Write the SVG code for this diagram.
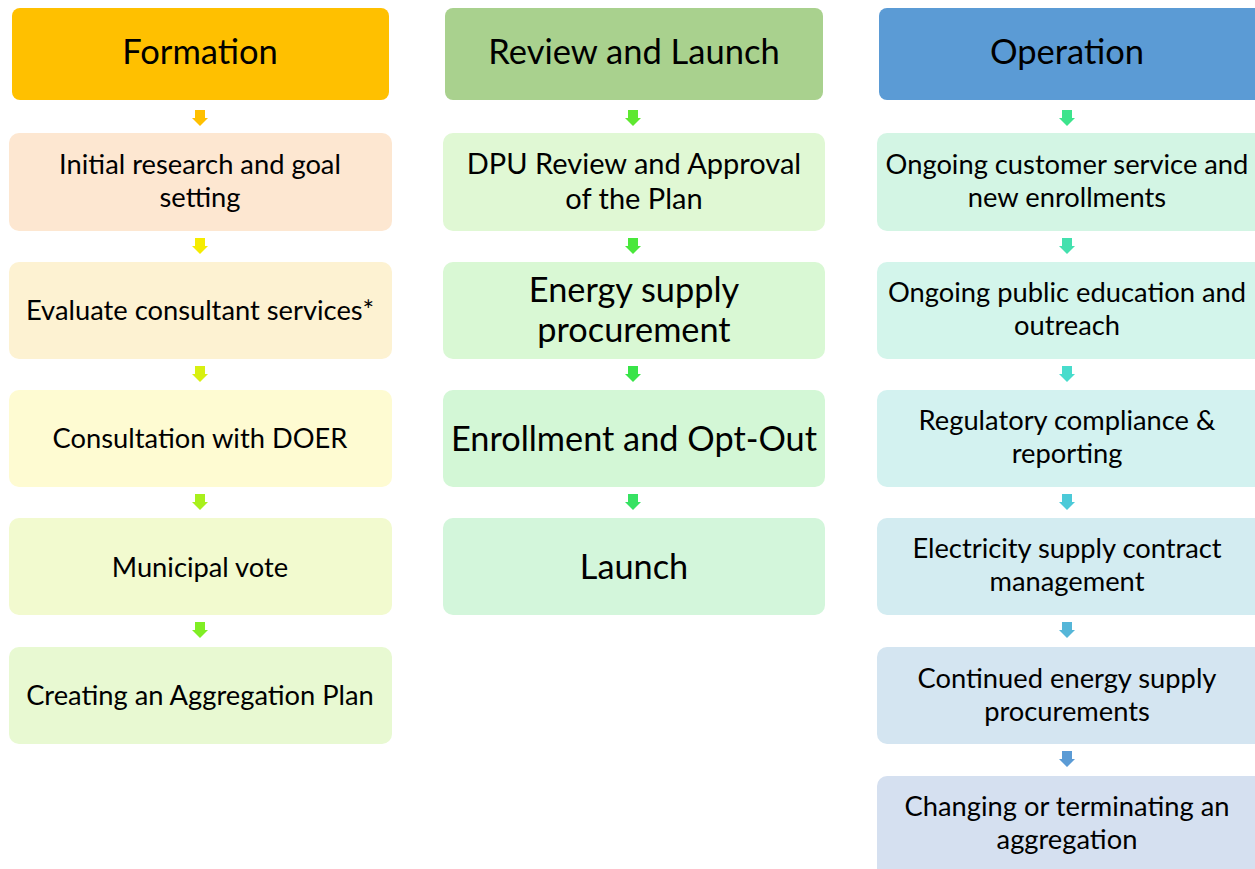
<svg xmlns="http://www.w3.org/2000/svg" xmlns:xlink="http://www.w3.org/1999/xlink" width="1255" height="869" viewBox="0 0 1255 869">
<style>
text{font-family:Lato,"Open Sans","Liberation Sans",sans-serif;fill:#000;text-anchor:middle}
.h{font-size:34.5px}
.n{font-size:27.3px}
.b{font-size:34.3px}
.m{font-size:29px}
</style>
<defs>
<path id="arr" d="M-5,0 H5 V8 H8 L0,16 L-8,8 H-5 Z"/>
</defs>
<rect width="1255" height="869" fill="#fff"/>
<g id="formation">
<g id="f0"><rect x="12" y="8" width="377" height="92" rx="8" fill="#FFC000"/><text class="h" x="200" y="64">Formation</text></g>
<g id="f1"><rect x="9" y="133" width="383" height="98" rx="10" fill="#FDE7D1"/><text class="n" x="200" y="174">Initial research and goal</text><text class="n" x="200" y="207">setting</text></g>
<g id="f2"><rect x="9" y="262" width="383" height="97" rx="10" fill="#FDF2D2"/><text class="n" x="200" y="320">Evaluate consultant services*</text></g>
<g id="f3"><rect x="9" y="390" width="383" height="97" rx="10" fill="#FEFBD2"/><text class="n" x="200" y="448">Consultation with DOER</text></g>
<g id="f4"><rect x="9" y="518" width="383" height="97" rx="10" fill="#F2FACF"/><text class="n" x="200" y="577">Municipal vote</text></g>
<g id="f5"><rect x="9" y="647" width="383" height="97" rx="10" fill="#E8F9D2"/><text class="n" x="200" y="705">Creating an Aggregation Plan</text></g>
</g>
<g id="review">
<g id="r0"><rect x="445" y="8" width="378" height="92" rx="8" fill="#A9D18E"/><text class="h" x="634" y="64">Review and Launch</text></g>
<g id="r1"><rect x="443" y="133" width="382" height="98" rx="10" fill="#E0F8D4"/><text class="m" x="634" y="174">DPU Review and Approval</text><text class="m" x="634" y="209">of the Plan</text></g>
<g id="r2"><rect x="443" y="262" width="382" height="97" rx="10" fill="#D9F8D4"/><text class="b" x="634" y="302">Energy supply</text><text class="b" x="634" y="342">procurement</text></g>
<g id="r3"><rect x="443" y="390" width="382" height="97" rx="10" fill="#D3F7D6"/><text class="b" x="634" y="451">Enrollment and Opt-Out</text></g>
<g id="r4"><rect x="443" y="518" width="382" height="97" rx="10" fill="#D3F6DB"/><text class="b" x="634" y="579">Launch</text></g>
</g>
<g id="operation">
<g id="o0"><rect x="879" y="8" width="386" height="92" rx="8" fill="#5B9BD5"/><text class="h" x="1067" y="64">Operation</text></g>
<g id="o1"><rect x="877" y="133" width="388" height="98" rx="10" fill="#D3F5E4"/><text class="n" x="1067" y="174">Ongoing customer service and</text><text class="n" x="1067" y="207">new enrollments</text></g>
<g id="o2"><rect x="877" y="262" width="388" height="97" rx="10" fill="#D3F5EB"/><text class="n" x="1067" y="302">Ongoing public education and</text><text class="n" x="1067" y="335">outreach</text></g>
<g id="o3"><rect x="877" y="390" width="388" height="97" rx="10" fill="#D3F2F0"/><text class="n" x="1067" y="430">Regulatory compliance &amp;</text><text class="n" x="1067" y="463">reporting</text></g>
<g id="o4"><rect x="877" y="518" width="388" height="97" rx="10" fill="#D3ECF1"/><text class="n" x="1067" y="558">Electricity supply contract</text><text class="n" x="1067" y="591">management</text></g>
<g id="o5"><rect x="877" y="647" width="388" height="97" rx="10" fill="#D4E5F1"/><text class="n" x="1067" y="688">Continued energy supply</text><text class="n" x="1067" y="721">procurements</text></g>
<g id="o6"><rect x="877" y="776" width="388" height="110" rx="10" fill="#D5E0F0"/><text class="n" x="1067" y="816">Changing or terminating an</text><text class="n" x="1067" y="849">aggregation</text></g>
</g>
<g id="connectors">
<use xlink:href="#arr" x="200" y="110" fill="#FFC000"/>
<use xlink:href="#arr" x="200" y="238" fill="#F5EC00"/>
<use xlink:href="#arr" x="200" y="366" fill="#D8F010"/>
<use xlink:href="#arr" x="200" y="494" fill="#A8F01C"/>
<use xlink:href="#arr" x="200" y="622" fill="#80EE24"/>
<use xlink:href="#arr" x="633" y="110" fill="#5EE830"/>
<use xlink:href="#arr" x="633" y="238" fill="#48E83A"/>
<use xlink:href="#arr" x="633" y="366" fill="#38E448"/>
<use xlink:href="#arr" x="633" y="494" fill="#36E262"/>
<use xlink:href="#arr" x="1067" y="110" fill="#3CE48C"/>
<use xlink:href="#arr" x="1067" y="238" fill="#44E0AE"/>
<use xlink:href="#arr" x="1067" y="366" fill="#48DCCC"/>
<use xlink:href="#arr" x="1067" y="494" fill="#4CCAD8"/>
<use xlink:href="#arr" x="1067" y="622" fill="#55B6D8"/>
<use xlink:href="#arr" x="1067" y="751" fill="#5B9BD5"/>
</g>
</svg>
